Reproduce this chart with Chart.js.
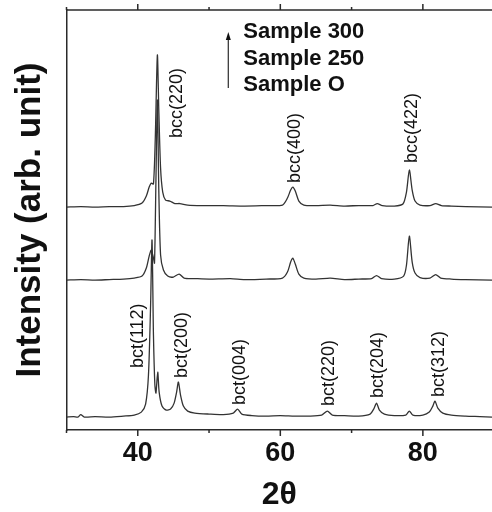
<!DOCTYPE html>
<html>
<head>
<meta charset="utf-8">
<script src="https://cdn.jsdelivr.net/npm/chart.js@4.4.1/dist/chart.umd.min.js"></script>
<style>
  html, body { margin: 0; padding: 0; background: #fff; }
</style>
</head>
<body>
<canvas id="myChart" width="492" height="512"></canvas>
<script>
// XRD patterns, [2theta, intensity (arb.)], each trace already offset
var sampleO = [
    [30, 13], [31, 13.5], [31.6, 13], [32.0, 15.5], [32.5, 13], [34, 13.5], [36, 13], [38, 14],
    [39.5, 15], [40.5, 18], [41.1, 26], [41.5, 55], [41.8, 125], [42.0, 190], [42.2, 95],
    [42.4, 45], [42.55, 37], [42.8, 58], [43.0, 38], [43.4, 24], [44, 20], [44.6, 21],
    [45.1, 27], [45.45, 38], [45.7, 48], [46.0, 35], [46.4, 24], [47, 19], [48, 17],
    [50, 16], [52, 15.5], [53.4, 17], [54.0, 21], [54.6, 16], [56, 14.5], [58, 14],
    [60, 14.5], [62, 14], [64, 14], [65.8, 15], [66.6, 19], [67.3, 15], [69, 14.5],
    [71, 14], [72.6, 16], [73.1, 21], [73.5, 27], [73.9, 20], [74.6, 16], [76, 14.5],
    [77.6, 15], [78.1, 19], [78.6, 15], [80, 15], [80.9, 18], [81.4, 24], [81.7, 29],
    [82.1, 22], [82.8, 17], [84, 15], [86, 14], [88, 13.5], [89.7, 13]
];
var sample250 = [
    [30, 150], [32, 150.5], [34, 150], [36, 150.5], [38, 151], [39.5, 152], [40.6, 154],
    [41.2, 162], [41.6, 174], [41.9, 180], [42.2, 172], [42.35, 167], [42.55, 250],
    [42.75, 330], [42.95, 240], [43.2, 175], [43.6, 160], [44.2, 154], [45, 153],
    [45.8, 156], [46.5, 152], [48, 151.5], [50, 151], [53, 151.5], [55, 150.5], [58, 151],
    [60.3, 152], [61.0, 158], [61.45, 168], [61.75, 172], [62.1, 166], [62.6, 156],
    [63.3, 152], [65, 151], [67, 152], [69, 150.5], [71, 151], [72.8, 151.5], [73.5, 154.5],
    [74.2, 151.5], [76, 151], [77.3, 154], [77.7, 165], [78.1, 194], [78.5, 168], [78.9, 157],
    [79.6, 152.5], [81, 152], [81.8, 155.5], [82.5, 152], [84, 151], [86, 150.5], [89.7, 150]
];
var sample300 = [
    [30, 223], [32, 223.5], [34, 223], [36, 223.5], [38, 223.5], [39.5, 224.5], [40.6, 227],
    [41.2, 234], [41.6, 243], [41.9, 247], [42.2, 246], [42.45, 290], [42.75, 375],
    [42.95, 320], [43.2, 262], [43.5, 238], [43.9, 230], [44.5, 229], [45.2, 226.5],
    [45.9, 226.5], [47, 225], [49, 224.5], [52, 224.5], [55, 224], [58, 224.5], [60.3, 225],
    [61.0, 232], [61.45, 240], [61.75, 243], [62.1, 239], [62.6, 229], [63.3, 225], [65, 224.5],
    [67, 225], [69, 224], [71, 224.5], [73, 224.5], [73.6, 226.5], [74.3, 224.5], [76, 224],
    [77.2, 226], [77.7, 238], [78.1, 260], [78.5, 240], [78.9, 229], [79.6, 225], [81, 224.5],
    [81.8, 226.5], [82.6, 224.5], [84, 224], [86, 223.5], [89.7, 223]
];

var xTicksMajor = [40, 60, 80];
var xTicksMinor = [30, 50, 70];
var legendNames = ["Sample 300", "Sample 250", "Sample O"];

// peak name, 2theta, intensity at the start of the label
var peakNames = ["bcc(220)", "bcc(400)", "bcc(422)", "bct(112)", "bct(200)", "bct(004)", "bct(220)", "bct(204)", "bct(312)"];
var peakTheta = [45.5, 62.1, 78.5, 40.0, 46.2, 54.4, 66.8, 73.7, 82.2];
var peakLabelAt = [292, 247, 267, 62, 52, 25, 24, 32, 33];

var FONT = "'Liberation Sans', Arial, sans-serif";
var INK = "#2a2a2a";

function toPoints(arr) {
    return arr.map(function (p) { return { x: p[0], y: p[1] }; });
}

var decorPlugin = {
    id: "decor",
    afterDraw: function (chart) {
        var ctx = chart.ctx;
        var xs = chart.scales.x;
        var ys = chart.scales.y;
        var area = chart.chartArea;
        ctx.save();
        ctx.strokeStyle = INK;
        ctx.lineWidth = 1.5;

        // top frame line
        ctx.beginPath();
        ctx.moveTo(area.left, area.top);
        ctx.lineTo(area.right, area.top);
        ctx.stroke();

        // tick marks, bottom outward and top outward
        function tick(v, len) {
            var px = xs.getPixelForValue(v);
            ctx.beginPath();
            ctx.moveTo(px, area.bottom);
            ctx.lineTo(px, area.bottom + len);
            ctx.moveTo(px, area.top);
            ctx.lineTo(px, area.top - len);
            ctx.stroke();
        }
        xTicksMajor.forEach(function (v) { tick(v, 6); });
        xTicksMinor.forEach(function (v) { tick(v, 3); });

        // peak labels
        ctx.fillStyle = "#111";
        ctx.font = "18px " + FONT;
        ctx.textAlign = "left";
        ctx.textBaseline = "middle";
        for (var i = 0; i < peakNames.length; i++) {
            ctx.save();
            ctx.translate(xs.getPixelForValue(peakTheta[i]), ys.getPixelForValue(peakLabelAt[i]));
            ctx.rotate(-Math.PI / 2);
            ctx.fillText(peakNames[i], 0, 0);
            ctx.restore();
        }

        // legend with arrow
        ctx.font = "bold 22px " + FONT;
        var lx = xs.getPixelForValue(54.8);
        var rows = [398, 371, 345];
        for (var j = 0; j < legendNames.length; j++) {
            ctx.fillText(legendNames[j], lx, ys.getPixelForValue(rows[j]));
        }
        var ax = xs.getPixelForValue(52.7);
        var ay0 = ys.getPixelForValue(342);
        var ay1 = ys.getPixelForValue(398);
        ctx.lineWidth = 1.2;
        ctx.beginPath();
        ctx.moveTo(ax, ay0);
        ctx.lineTo(ax, ay1 + 4);
        ctx.stroke();
        ctx.beginPath();
        ctx.moveTo(ax, ay1);
        ctx.lineTo(ax - 2.5, ay1 + 8);
        ctx.lineTo(ax + 2.5, ay1 + 8);
        ctx.closePath();
        ctx.fill();
        ctx.restore();
    }
};

function lineSet(name, arr) {
    return {
        label: name,
        data: toPoints(arr),
        borderColor: "#333",
        borderWidth: 1.3,
        pointRadius: 0,
        tension: 0.25,
        fill: false
    };
}

var chart = new Chart(document.getElementById("myChart").getContext("2d"), {
    type: "line",
    data: {
        datasets: [
            lineSet("Sample O", sampleO),
            lineSet("Sample 250", sample250),
            lineSet("Sample 300", sample300)
        ]
    },
    plugins: [decorPlugin],
    options: {
        responsive: false,
        animation: false,
        layout: { padding: { top: 10, right: 0, left: 0, bottom: 0 } },
        plugins: { legend: { display: false }, tooltip: { enabled: false } },
        scales: {
            x: {
                type: "linear",
                min: 30,
                max: 89.7,
                grid: { display: false, drawTicks: false },
                border: { display: true, color: INK, width: 1.5 },
                ticks: {
                    stepSize: 10,
                    includeBounds: false,
                    autoSkip: false,
                    maxRotation: 0,
                    padding: 0,
                    color: "#111",
                    font: { family: FONT, size: 27, weight: "bold", lineHeight: 1.7 },
                    callback: function (v) {
                        return xTicksMajor.indexOf(v) >= 0 ? String(v) : "";
                    }
                },
                title: {
                    display: true,
                    text: "2θ",
                    color: "#111",
                    font: { family: FONT, size: 32, weight: "bold", lineHeight: 1 },
                    padding: { top: 3, bottom: 1 }
                }
            },
            y: {
                min: 0,
                max: 420,
                grid: { display: false, drawTicks: false },
                border: { display: true, color: INK, width: 1.5 },
                ticks: { display: false },
                title: {
                    display: true,
                    text: "Intensity (arb. unit)",
                    color: "#111",
                    font: { family: FONT, size: 35, weight: "bold", lineHeight: 1 },
                    padding: { top: 13, bottom: 18.5 }
                }
            }
        }
    }
});
</script>
</body>
</html>
